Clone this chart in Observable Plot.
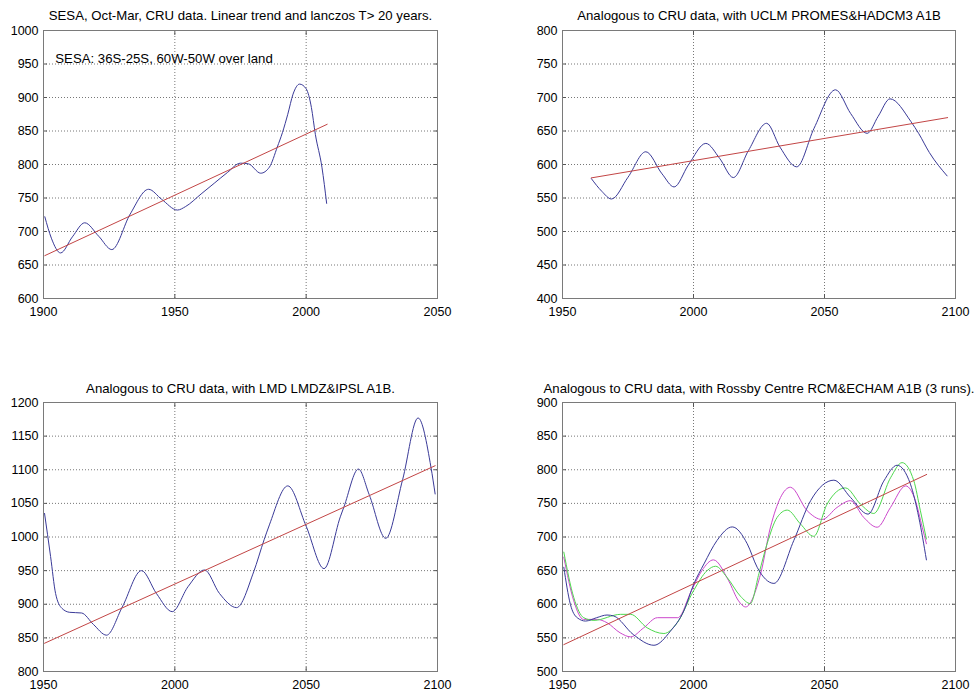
<!DOCTYPE html>
<html><head><meta charset="utf-8">
<script src="https://cdn.jsdelivr.net/npm/d3@7"></script>
<script src="https://cdn.jsdelivr.net/npm/@observablehq/plot@0.6"></script>
<style>
body{margin:0;background:#fff;}
#wrap{position:relative;width:974px;height:693px;font-family:"Liberation Sans",Arial,Helvetica,sans-serif;}
.panel{position:absolute;}
.panel svg{overflow:visible;}
</style></head><body><div id="wrap"></div>
<script>
// ---------- Panel 1: SESA CRU data ----------
const p1Title = "SESA, Oct-Mar, CRU data. Linear trend and lanczos T> 20 years.";
const p1Note = "SESA: 36S-25S, 60W-50W over land";
const p1XTicks = [1900, 1950, 2000, 2050];
const p1YTicks = [600, 650, 700, 750, 800, 850, 900, 950, 1000];
const p1Years = [1900.5, 1903, 1906.5, 1911, 1915.7, 1921, 1926, 1933, 1940, 1945, 1951, 1954, 1960, 1965, 1970, 1975, 1978, 1982.7, 1986, 1989, 1991, 1993, 1995, 1997.5, 2000, 2002, 2003.5, 2006, 2007.8];
const p1Blue  = [722, 690, 668, 692, 713, 693, 673, 726, 763, 748, 732, 737, 756, 772, 788, 802, 801, 787, 796, 826, 848, 875, 905, 920, 913, 885, 845, 796, 742];
const p1TrendYears = [1900.5, 2008];
const p1Trend = [664, 860];

// ---------- Panel 2: UCLM PROMES & HADCM3 ----------
const p2Title = "Analogous to CRU data, with UCLM PROMES&HADCM3 A1B";
const p2XTicks = [1950, 2000, 2050, 2100];
const p2YTicks = [400, 450, 500, 550, 600, 650, 700, 750, 800];
const p2Years = [1961, 1965, 1968.7, 1975, 1981.8, 1988, 1992.6, 1998, 2004.7, 2010, 2015.2, 2021, 2027.9, 2033, 2039.4, 2046, 2054.2, 2060, 2066.3, 2070.5, 2075, 2083, 2086, 2090, 2096.8];
const p2Blue  = [579, 560, 548.5, 581, 619, 586, 566.5, 599, 631.5, 609, 580.5, 621, 661.5, 626, 596.5, 654, 711.5, 676, 646.5, 672, 698, 664, 646, 618, 583];
const p2TrendYears = [1961, 2097];
const p2Trend = [580, 670];

// ---------- Panel 3: LMD LMDZ & IPSL ----------
const p3Title = "Analogous to CRU data, with LMD LMDZ&IPSL A1B.";
const p3XTicks = [1950, 2000, 2050, 2100];
const p3YTicks = [800, 850, 900, 950, 1000, 1050, 1100, 1150, 1200];
const p3Years = [1950.4, 1952.7, 1954.6, 1957, 1960, 1964.5, 1969, 1974, 1980, 1987.3, 1993, 1999, 2005, 2011.3, 2017, 2023.5, 2030, 2034, 2036, 2043, 2050, 2056.8, 2063, 2064.4, 2069.9, 2074, 2080.3, 2086.7, 2092.6, 2097.5, 2099.1];
const p3Blue  = [1035, 971, 916, 894, 888, 887, 870, 854, 896, 950, 916, 889, 926, 951, 916, 895, 948, 996, 1018, 1076, 1016, 953, 1030, 1045, 1101, 1063, 998, 1085, 1177, 1104, 1064];
const p3TrendYears = [1950.4, 2099.1];
const p3Trend = [842, 1106];

// ---------- Panel 4: Rossby Centre RCM & ECHAM (3 runs) ----------
const p4Title = "Analogous to CRU data, with Rossby Centre RCM&ECHAM A1B (3 runs).";
const p4XTicks = [1950, 2000, 2050, 2100];
const p4YTicks = [500, 550, 600, 650, 700, 750, 800, 850, 900];
const p4BlueYears = [1950.5, 1953, 1955.6, 1958.8, 1963, 1967, 1969.6, 1977, 1984.9, 1991.2, 1996.3, 2000.1, 2004, 2009, 2014.8, 2020.5, 2024.3, 2030.7, 2038.3, 2044.7, 2053.6, 2059.9, 2066.6, 2072.6, 2077.7, 2082.8, 2086, 2088.9];
const p4Blue      = [655, 600, 580, 575, 580, 584, 582.5, 555, 539, 560, 590, 630, 660, 695, 715, 690, 655, 631, 695, 754, 784.5, 759, 734, 783, 806.7, 778.6, 729, 666];
const p4GreenYears = [1950.5, 1954.3, 1958.1, 1962, 1972.2, 1976, 1982.3, 1988.7, 1993.8, 2000, 2005.2, 2008.4, 2012.8, 2017.9, 2021.7, 2025, 2028.1, 2031.9, 2035.8, 2040.8, 2045.9, 2051, 2058, 2063.7, 2068.8, 2075.2, 2079.6, 2084.1, 2086.6, 2088.9];
const p4Green      = [677.5, 610, 580, 576, 585, 585, 565, 556.5, 572.5, 620, 650, 656.5, 640, 612, 601, 646, 690, 729, 740, 719.5, 701, 749, 773, 749, 735, 788, 810.6, 783.5, 739, 697];
const p4MagentaYears = [1950.5, 1954.3, 1958, 1963.2, 1967, 1972, 1976, 1981, 1986.2, 1994, 1999.2, 2003.2, 2007.6, 2013.4, 2017.2, 2019.9, 2025.6, 2029.4, 2037, 2043.4, 2049.1, 2054.8, 2059.9, 2065, 2070.1, 2075.2, 2081, 2084.7, 2087.3, 2088.9];
const p4Magenta      = [670, 605, 577.5, 577.5, 572.5, 557.5, 551.5, 565, 580, 580, 620, 650, 666, 635, 605, 596, 645, 715, 774, 739, 726, 744, 754, 729, 714.5, 744, 776, 754, 714.5, 690];
const p4TrendYears = [1950.5, 2089];
const p4Trend = [540, 793];

// ---------- styling ----------
const BLUE = "#3a3a98", RED = "#c24545", GREEN = "#4ed84e", MAGENTA = "#cc48cc";
const FONT = "'Liberation Sans', Arial, Helvetica, sans-serif";

const toRows = (xs, ys) => xs.map((x, i) => ({year: x, value: ys[i]}));

function panel(cfg) {
  const {left, top, width, height, mL, mR, mT, mB, xDomain, yDomain, xTicks, yTicks, title, lines, note} = cfg;
  const marks = [
    Plot.gridX(xTicks, {stroke: "#777", strokeOpacity: 1, strokeDasharray: "1,2"}),
    Plot.gridY(yTicks, {stroke: "#777", strokeOpacity: 1, strokeDasharray: "1,2"}),
    Plot.axisX(xTicks, {anchor: "bottom", label: null, tickSize: 0, tickPadding: 9, tickFormat: d => String(d), fontSize: 12.5, fill: "#000"}),
    Plot.axisY(yTicks, {anchor: "left", label: null, tickSize: 0, tickPadding: 5, tickFormat: d => String(d), fontSize: 12.5, fill: "#000"}),
    Plot.axisY(yTicks, {anchor: "left", label: null, tickSize: -4, tickFormat: () => "", stroke: "#555"}),
    Plot.axisY(yTicks, {anchor: "right", label: null, tickSize: -4, tickFormat: () => "", stroke: "#555"}),
    Plot.axisX(xTicks, {anchor: "bottom", label: null, tickSize: -4, tickFormat: () => "", stroke: "#555"}),
    Plot.axisX(xTicks, {anchor: "top", label: null, tickSize: -4, tickFormat: () => "", stroke: "#555"}),
    Plot.frame({stroke: "#7a7a7a", strokeWidth: 1}),
    ...lines.map(l => Plot.line(toRows(l.x, l.y), {x: "year", y: "value", stroke: l.color, strokeWidth: 1, curve: l.curve || "monotone-x"})),
    Plot.text([title], {text: d => d, frameAnchor: "top", dy: -cfg.titleDy, fontSize: 13.2, lineAnchor: "middle", fill: "#000"})
  ];
  if (note) marks.push(Plot.text([note.text], {text: d => d, x: note.x, y: note.y, textAnchor: "start", fontSize: 13.2, fill: "#000"}));
  const svg = Plot.plot({
    width, height,
    marginLeft: mL, marginRight: mR, marginTop: mT, marginBottom: mB,
    x: {domain: xDomain, axis: null},
    y: {domain: yDomain, axis: null},
    style: {fontFamily: FONT, fontSize: "12px", background: "transparent", overflow: "visible"},
    marks
  });
  const div = document.createElement("div");
  div.className = "panel";
  div.style.left = left + "px";
  div.style.top = top + "px";
  div.appendChild(svg);
  document.getElementById("wrap").appendChild(div);
}

panel({left: 0, top: 0, width: 487, height: 340, mL: 43, mR: 50, mT: 30, mB: 42, titleDy: 15,
  xDomain: [1900, 2050], yDomain: [600, 1000], xTicks: p1XTicks, yTicks: p1YTicks, title: p1Title,
  note: {text: p1Note, x: 1904.5, y: 958},
  lines: [
    {x: p1Years, y: p1Blue, color: BLUE},
    {x: p1TrendYears, y: p1Trend, color: RED, curve: "linear"}
  ]});

panel({left: 487, top: 0, width: 487, height: 340, mL: 75, mR: 19, mT: 30, mB: 42, titleDy: 15,
  xDomain: [1950, 2100], yDomain: [400, 800], xTicks: p2XTicks, yTicks: p2YTicks, title: p2Title,
  lines: [
    {x: p2Years, y: p2Blue, color: BLUE},
    {x: p2TrendYears, y: p2Trend, color: RED, curve: "linear"}
  ]});

panel({left: 0, top: 340, width: 487, height: 353, mL: 43, mR: 50, mT: 62, mB: 22, titleDy: 14,
  xDomain: [1950, 2100], yDomain: [800, 1200], xTicks: p3XTicks, yTicks: p3YTicks, title: p3Title,
  lines: [
    {x: p3Years, y: p3Blue, color: BLUE},
    {x: p3TrendYears, y: p3Trend, color: RED, curve: "linear"}
  ]});

panel({left: 487, top: 340, width: 487, height: 353, mL: 75, mR: 19, mT: 62, mB: 22, titleDy: 14,
  xDomain: [1950, 2100], yDomain: [500, 900], xTicks: p4XTicks, yTicks: p4YTicks, title: p4Title,
  lines: [
    {x: p4MagentaYears, y: p4Magenta, color: MAGENTA},
    {x: p4GreenYears, y: p4Green, color: GREEN},
    {x: p4BlueYears, y: p4Blue, color: BLUE},
    {x: p4TrendYears, y: p4Trend, color: RED, curve: "linear"}
  ]});
</script>
</body></html>
